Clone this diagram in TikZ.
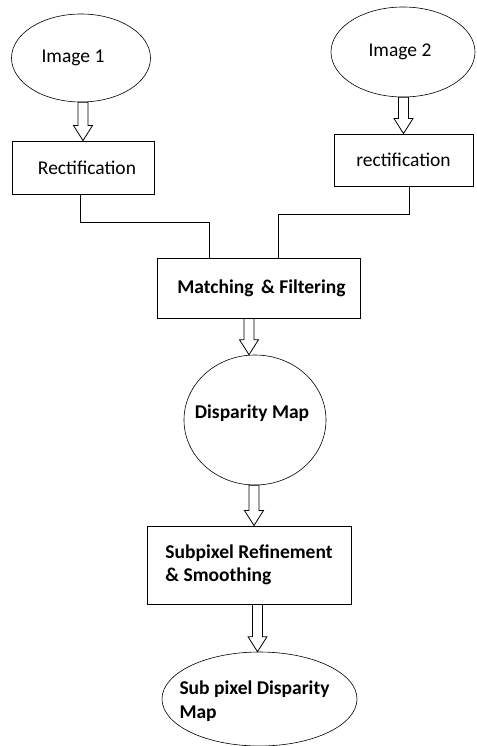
\documentclass[tikz,border=0pt]{standalone}
\usepackage{fontspec}
\setmainfont{Carlito}
\usetikzlibrary{calc, shapes.geometric}

% hollow block arrow from one node down to the next (optional sideways shift)
\newcommand{\blockarrow}[3][0pt]{%
  \draw[fatarr] let \p1=(#2.south), \p2=($(#3.north)+(#1,0)$) in
    (\x2-5pt,\y1) -- (\x2-5pt,\y2+15pt) -- (\x2-9.5pt,\y2+15pt) -- (\x2,\y2)
    -- (\x2+9.5pt,\y2+15pt) -- (\x2+5pt,\y2+15pt) -- (\x2+5pt,\y1) -- cycle;}

\begin{document}
\begin{tikzpicture}[
  x=1pt, y=-1pt,
  blob/.style={ellipse, draw=black, line width=0.6pt, inner sep=0pt},
  box/.style={rectangle, draw=black, line width=0.9pt, inner sep=0pt,
              font=\fontsize{19.5}{23}\selectfont},
  txt/.style={font=\fontsize{19.5}{24}\selectfont, align=left},
  btxt/.style={txt, font=\fontsize{19.5}{24}\selectfont\bfseries},
  fatarr/.style={draw=black, fill=white, line width=0.8pt, line join=miter},
  link/.style={draw=black, line width=0.9pt}
]
\useasboundingbox (0,0) rectangle (476,746);
%% inputs
\node[blob, minimum width=139pt, minimum height=88pt,
      label={[txt, xshift=-8pt]center:Image 1}] (img1) at (81,58) {};
\node[blob, minimum width=144pt, minimum height=90pt,
      label={[txt, xshift=-3pt]center:Image 2}] (img2) at (403,52) {};
\node[box, minimum width=142pt, minimum height=53pt]  (rect1) at (83,167.5)  {\hspace{8pt}Rectification};
\node[box, minimum width=139pt, minimum height=52pt]  (rect2) at (403.5,160) {rectification};
\blockarrow{img1}{rect1}
\blockarrow{img2}{rect2}
%% matching
\node[box, minimum width=203pt, minimum height=60pt, font=\fontsize{19.5}{23}\selectfont\bfseries]
  (match) at (258.5,288) {\hspace{6pt}Matching \,\& Filtering};
\draw[link] (rect1.south -| 80,0) |- (209,222) -- (match.north -| 209,0);
\draw[link] (rect2.south -| 409,0) |- (278,214) -- (match.north -| 278,0);
%% disparity
\node[blob, minimum width=142pt, minimum height=130pt,
      label={[btxt, xshift=-3pt, yshift=7pt]center:Disparity Map}] (disp) at (255,420) {};
\blockarrow[-6pt]{match}{disp}
%% refinement
\node[box, minimum width=204pt, minimum height=78pt, align=left,
      font=\fontsize{19.5}{23}\selectfont\bfseries]
  (refine) at (249,565) {Subpixel Refinement\\\& Smoothing};
\blockarrow[5pt]{disp}{refine}
%% output
\node[blob, minimum width=195pt, minimum height=94pt,
      label={[btxt, xshift=-5pt, yshift=-2pt]center:{Sub pixel Disparity\\Map}}] (subdisp) at (259.5,699) {};
\blockarrow[-2pt]{refine}{subdisp}
\end{tikzpicture}
\end{document}
